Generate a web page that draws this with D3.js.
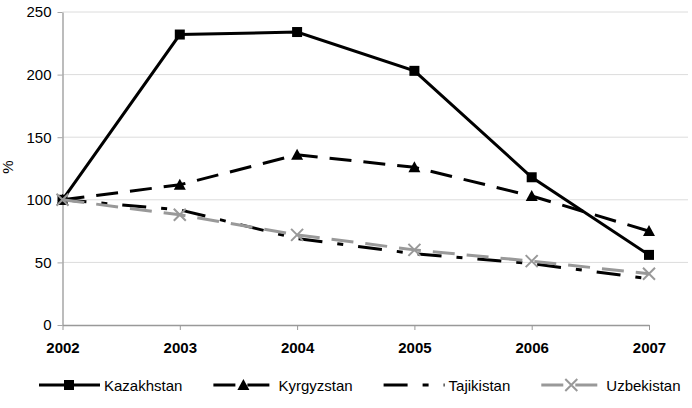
<!DOCTYPE html>
<html>
<head>
<meta charset="utf-8">
<script src="https://cdn.jsdelivr.net/npm/d3@7"></script>
<style>
  body { margin: 0; background: #fff; }
  svg { font-family: "Liberation Sans", Arial, sans-serif; }
</style>
</head>
<body>
<div id="chart"></div>
<script>
// chart data
var YEARS = ["2002", "2003", "2004", "2005", "2006", "2007"];
var SERIES_NAMES = ["Kazakhstan", "Kyrgyzstan", "Tajikistan", "Uzbekistan"];
var KAZAKHSTAN = [100, 232, 234, 203, 118, 56];
var KYRGYZSTAN = [100, 112, 136, 126, 103, 75];
var TAJIKISTAN = [100, 92, 69, 57, 49, 37];
var UZBEKISTAN = [100, 88, 72, 60, 51, 41];
var Y_TICKS = [0, 50, 100, 150, 200, 250];

function drawChart() {
    var width = 692, height = 408;
    var svg = d3.select("#chart").append("svg")
        .attr("width", width)
        .attr("height", height);

    // scales
    var x = d3.scalePoint().domain(YEARS).range([62.5, 649]);
    var y = d3.scaleLinear().domain([0, 250]).range([325, 12]);

    // gridlines
    svg.append("g")
        .selectAll("line")
        .data(Y_TICKS.filter(function (d) { return d > 0; }))
        .enter()
        .append("line")
        .attr("x1", 62.5).attr("x2", 688)
        .attr("y1", function (d) { return y(d); })
        .attr("y2", function (d) { return y(d); })
        .attr("stroke", "#dcdcdc")
        .attr("stroke-width", 1);

    // y axis
    var yAxis = svg.append("g")
        .attr("transform", "translate(62.5,0)")
        .call(d3.axisLeft(y).tickValues(Y_TICKS).tickSize(5).tickSizeOuter(0).tickPadding(6));
    yAxis.select(".domain").attr("stroke", "#a6a6a6").attr("stroke-width", 1.5);
    yAxis.selectAll(".tick line").attr("stroke", "#a6a6a6");
    yAxis.selectAll("text").attr("font-size", "15px").attr("fill", "#000")
        .attr("font-family", "Liberation Sans, Arial, sans-serif");

    // x axis
    var xAxis = svg.append("g")
        .attr("transform", "translate(0,325)")
        .call(d3.axisBottom(x).tickSize(5).tickSizeOuter(0).tickPadding(12));
    xAxis.select(".domain").attr("stroke", "#999").attr("stroke-width", 1.5);
    xAxis.selectAll(".tick line").attr("stroke", "#999");
    xAxis.selectAll("text").attr("font-size", "15px").attr("font-weight", "bold").attr("fill", "#000")
        .attr("font-family", "Liberation Sans, Arial, sans-serif");

    // y axis title
    svg.append("text")
        .attr("transform", "translate(13,167) rotate(-90)")
        .attr("text-anchor", "middle")
        .attr("font-size", "15px")
        .text("%");

    var series = [
        { name: SERIES_NAMES[0], values: KAZAKHSTAN, color: "#000", dash: null, marker: "square" },
        { name: SERIES_NAMES[1], values: KYRGYZSTAN, color: "#000", dash: "22,12", marker: "triangle" },
        { name: SERIES_NAMES[2], values: TAJIKISTAN, color: "#000", dash: "24,15,6,15", marker: "none" },
        { name: SERIES_NAMES[3], values: UZBEKISTAN, color: "#999", dash: "22,12", marker: "cross" }
    ];

    var line = d3.line()
        .x(function (d, i) { return x(YEARS[i]); })
        .y(function (d) { return y(d); });

    function drawMarker(g, type, color, cx, cy) {
        if (type === "square") {
            g.append("rect").attr("x", cx - 5).attr("y", cy - 5)
                .attr("width", 10).attr("height", 10).attr("fill", color);
        } else if (type === "triangle") {
            g.append("path")
                .attr("d", "M" + cx + "," + (cy - 6) + "L" + (cx + 6) + "," + (cy + 5) + "L" + (cx - 6) + "," + (cy + 5) + "Z")
                .attr("fill", color);
        } else if (type === "cross") {
            g.append("path")
                .attr("d", "M" + (cx - 6) + "," + (cy - 6) + "L" + (cx + 6) + "," + (cy + 6) +
                    "M" + (cx + 6) + "," + (cy - 6) + "L" + (cx - 6) + "," + (cy + 6))
                .attr("stroke", color).attr("stroke-width", 2).attr("fill", "none");
        }
    }

    // lines and markers
    series.forEach(function (s) {
        var g = svg.append("g");
        g.append("path")
            .datum(s.values)
            .attr("d", line)
            .attr("fill", "none")
            .attr("stroke", s.color)
            .attr("stroke-width", 3)
            .attr("stroke-dasharray", s.dash);
        s.values.forEach(function (v, i) {
            drawMarker(g, s.marker, s.color, x(YEARS[i]), y(v));
        });
    });

    // legend
    var legend = svg.append("g").attr("transform", "translate(0,385)");
    var lx = 39;
    series.forEach(function (s) {
        var item = legend.append("g");
        item.append("line")
            .attr("x1", lx).attr("x2", lx + 61)
            .attr("y1", 0).attr("y2", 0)
            .attr("stroke", s.color)
            .attr("stroke-width", 3)
            .attr("stroke-dasharray", s.dash);
        drawMarker(item, s.marker, s.color, lx + 30, 0);
        var t = item.append("text")
            .attr("x", lx + 65)
            .attr("y", 6)
            .attr("font-size", "15px")
            .text(s.name);
        lx = lx + 65 + t.node().getComputedTextLength() + 31;
    });
}

drawChart();
</script>
</body>
</html>
